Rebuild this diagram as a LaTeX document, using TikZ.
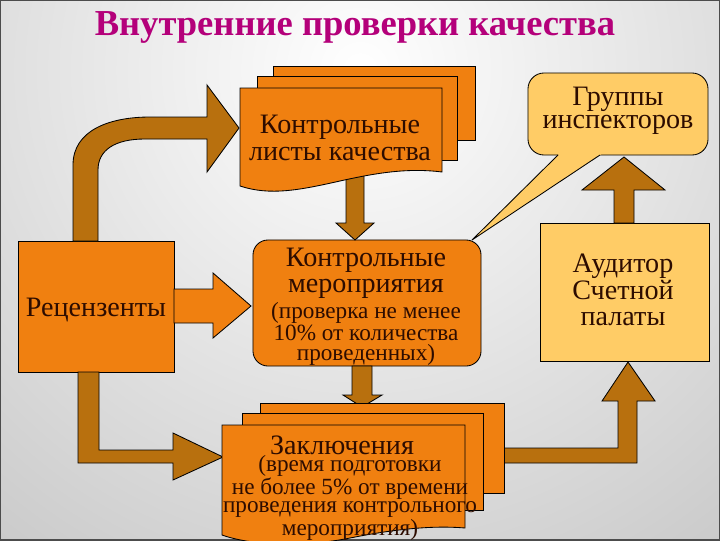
\documentclass[tikz,border=0pt]{standalone}
\usepackage{fontspec}
\setmainfont{Liberation Serif}
\usetikzlibrary{positioning, calc}
\definecolor{boxorange}{RGB}{240,128,16}
\definecolor{arrowbrown}{RGB}{184,112,14}
\definecolor{paleyellow}{RGB}{255,204,102}
\definecolor{inkbrown}{RGB}{45,12,0}
\definecolor{titlemagenta}{RGB}{180,0,122}
\tikzset{%
	box/.style={draw, fill=boxorange, line width=0.6pt},
	pale/.style={draw, fill=paleyellow, line width=0.6pt},
	pipe/.style={draw, fill=arrowbrown, line width=0.6pt},
	big/.style={text=inkbrown, align=center, inner sep=0pt,
		font=\fontsize{20}{19}\selectfont},
	small/.style={text=inkbrown, align=center, inner sep=0pt,
		font=\fontsize{16.5}{14.2}\selectfont},
	heading/.style={text=titlemagenta, inner sep=0pt,
		font=\fontsize{26}{30}\selectfont\bfseries}
}

\begin{document}
\begin{tikzpicture}[x=0.025cm, y=-0.025cm]
	\useasboundingbox (0,0) rectangle (720,540);
	\clip (0,0) rectangle (720,540);
	\shade[inner color=white, outer color=gray!76] (360,70) circle (1100);
	\draw[line width=1.5pt, black!70] (0,0) rectangle (720,540);

	\node[heading] (title) at (355,27) {Внутренние проверки качества};

	% boxes
	\node[box, minimum width=3.9cm, minimum height=3.275cm] (rec) at (96,306.5) {};
	\node[big] (recText) at (96,310) {Рецензенты};
	\node[box, rounded corners=0.375cm, minimum width=5.7cm, minimum height=3.15cm] (plan) at (367,303) {};
	\node[big, font=\fontsize{20}{18.5}\selectfont] (planHead) at (366,273) {Контрольные\\мероприятия};
	\node[small] (planNote) at (366,334) {(проверка не менее\\10\% от количества\\проведенных)};
	\node[pale, minimum width=4.225cm, minimum height=3.45cm] (audit) at (624.5,292) {};
	\node[big] (auditText) at (623,290) {Аудитор\\Счетной\\палаты};
	\node[pale, rounded corners=0.4cm, minimum width=4.5cm, minimum height=2.05cm] (group) at (618,114) {};
	\fill[paleyellow] (563,150) -- (472,240) -- (607.5,150) -- cycle;
	\draw[line width=0.6pt] (558,155) -- (472,240) -- (600,155);
	\node[big, font=\fontsize{20}{16.5}\selectfont] (groupText) at (618,111) {Группы\\инспекторов};

	% block arrows
	\draw[box] (174,289) -- (213,289) -- (213,273) -- (251,306) -- (213,338) -- (213,323) -- (174,323) -- cycle;
	\draw[pipe] (73,241) -- (73,165) .. controls (73,130) and (110,117) .. (150,117) -- (207,117) -- (207,85)
		-- (239,128) -- (207,172) -- (207,139) -- (145,139) .. controls (115,139) and (98,150) .. (98,170) -- (98,241) -- cycle;
	\draw[pipe] (78,372) -- (78,463) -- (173,463) -- (173,480) -- (223,457)
		-- (173,433) -- (173,450) -- (99,450) -- (99,372) -- cycle;
	\draw[pipe] (504,448) -- (618,448) -- (618,401) -- (602,401) -- (628,362)
		-- (655,401) -- (637,401) -- (637,463) -- (504,463) -- cycle;
	\draw[pipe] (614,223) -- (614,190) -- (582,190) -- (624,157) -- (665,190) -- (634,190) -- (634,223) -- cycle;
	\draw[pipe] (346,175) -- (346,223) -- (336,223) -- (355,240) -- (374,223) -- (364,223) -- (364,175) -- cycle;
	\draw[pipe] (352,366) -- (352,395) -- (343,395) -- (362,407) -- (382,395) -- (372,395) -- (372,366) -- cycle;

	% Контрольные листы
	\draw[box] (273,66) rectangle (475,140);
	\draw[box] (257,76) rectangle (457,160);
	\draw[box] (240,88) -- (442,88) -- (442,172)
		.. controls (410,168) and (380,172) .. (340,181)
		.. controls (300,190) and (270,196) .. (240,186) -- cycle;
	\node[big] (lists) at (340,138) {Контрольные\\листы качества};

	% Заключения
	\draw[box] (260,403) rectangle (504,493);
	\draw[box] (242,413) rectangle (483,510);
	\draw[box] (222,425) -- (465,425) -- (465,528)
		.. controls (430,525) and (390,530) .. (350,538)
		.. controls (300,548) and (250,545) .. (222,535) -- cycle;
	\node[big] (concl) at (342,445) {Заключения};
	\node[small, font=\fontsize{16.5}{12.8}\selectfont] (conclNote) at (350,498)
		{(время подготовки\\не более 5\% от времени\\проведения контрольного\\мероприятия)};
\end{tikzpicture}
\end{document}
